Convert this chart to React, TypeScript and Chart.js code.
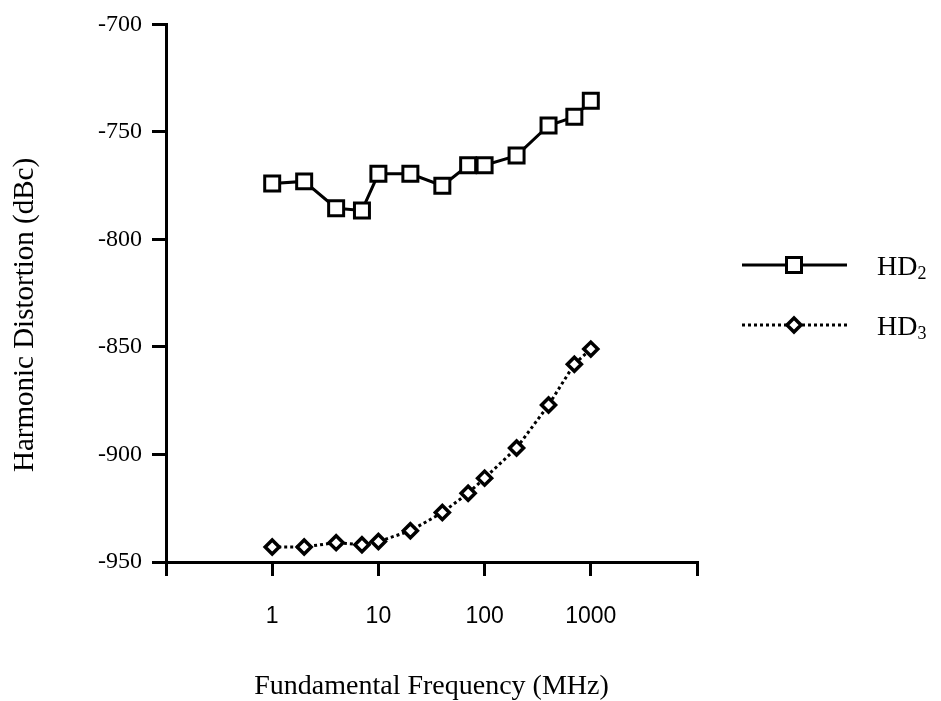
import React, { useEffect, useRef } from 'react';
import { Chart, registerables } from 'chart.js';

Chart.register(...registerables);

// ---- data ----
const frequencies = [1, 2, 4, 7, 10, 20, 40, 70, 100, 200, 400, 700, 1000];
const hd2Values = [-774, -773, -785.5, -786.5, -769.5, -769.5, -775, -765.5, -765.5, -761, -747, -743, -735.5];
const hd3Values = [-943, -943, -941, -942, -940.5, -935.5, -927, -918, -911, -897, -877, -858, -851];
const seriesNames = ['HD2', 'HD3'];
const legendBase = ['HD', 'HD'];
const legendSub = ['2', '3'];
const xTickValues = [0.1, 1, 10, 100, 1000, 10000];
const xTickLabels = ['', '1', '10', '100', '1000', ''];
const yTickValues = [-950, -900, -850, -800, -750, -700];
const xTitle = 'Fundamental Frequency (MHz)';
const yTitle = 'Harmonic Distortion (dBc)';

const SERIF = '"Liberation Serif", "Times New Roman", serif';
const SANS = '"Liberation Sans", Arial, sans-serif';

const yAxisTitle = {
  id: 'yAxisTitle',
  afterDraw(chart: any) {
    const ctx = chart.ctx as CanvasRenderingContext2D;
    ctx.save();
    ctx.translate(25, 315);
    ctx.rotate(-Math.PI / 2);
    ctx.fillStyle = '#000';
    ctx.font = `29px ${SERIF}`;
    ctx.textAlign = 'center';
    ctx.textBaseline = 'middle';
    ctx.fillText(yTitle, 0, 0);
    ctx.restore();
  },
};

const sideLegend = {
  id: 'sideLegend',
  afterDraw(chart: any) {
    const ctx = chart.ctx as CanvasRenderingContext2D;
    const rows = [265, 325];
    const x1 = 742;
    const x2 = 847;
    const mx = 794;
    const tx = 877;
    ctx.save();
    rows.forEach((y, i) => {
      ctx.strokeStyle = '#000';
      ctx.lineWidth = 3;
      ctx.setLineDash(i === 0 ? [] : [3, 3]);
      ctx.beginPath();
      ctx.moveTo(x1, y);
      ctx.lineTo(x2, y);
      ctx.stroke();
      ctx.setLineDash([]);
      ctx.fillStyle = '#fff';
      ctx.beginPath();
      if (i === 0) {
        ctx.lineWidth = 3;
        ctx.rect(mx - 7.5, y - 7.5, 15, 15);
      } else {
        ctx.lineWidth = 3.5;
        ctx.moveTo(mx - 7, y);
        ctx.lineTo(mx, y - 7);
        ctx.lineTo(mx + 7, y);
        ctx.lineTo(mx, y + 7);
        ctx.closePath();
      }
      ctx.fill();
      ctx.stroke();
      ctx.fillStyle = '#000';
      ctx.textBaseline = 'alphabetic';
      ctx.textAlign = 'left';
      ctx.font = `28px ${SERIF}`;
      const base = legendBase[i];
      ctx.fillText(base, tx, y + 10);
      const w = ctx.measureText(base).width;
      ctx.font = `18px ${SERIF}`;
      ctx.fillText(legendSub[i], tx + w, y + 14);
    });
    ctx.restore();
  },
};

export default function App() {
  const ref = useRef<HTMLCanvasElement | null>(null);
  useEffect(() => {
    if (!ref.current) return;
    const chart = new Chart(ref.current, {
      type: 'line',
      data: {
        datasets: [
          {
            label: seriesNames[0],
            data: frequencies.map((f, i) => ({ x: f, y: hd2Values[i] })),
            borderColor: '#000',
            borderWidth: 3,
            pointStyle: 'rect',
            pointRadius: 10.6,
            pointBorderWidth: 3,
            pointBackgroundColor: '#fff',
            pointBorderColor: '#000',
            tension: 0,
          },
          {
            label: seriesNames[1],
            data: frequencies.map((f, i) => ({ x: f, y: hd3Values[i] })),
            borderColor: '#000',
            borderWidth: 3,
            borderDash: [3, 3],
            pointStyle: 'rectRot',
            pointRadius: 7,
            pointBorderWidth: 3.5,
            pointBackgroundColor: '#fff',
            pointBorderColor: '#000',
            tension: 0,
          },
        ],
      },
      options: {
        animation: false,
        responsive: false,
        devicePixelRatio: 1,
        layout: { padding: { top: 24, right: 244, left: 0, bottom: 0 } },
        plugins: { legend: { display: false }, tooltip: { enabled: false } },
        scales: {
          x: {
            type: 'logarithmic',
            min: 0.1,
            max: 10000,
            afterBuildTicks: (scale: any) => {
              scale.ticks = xTickValues.map((v) => ({ value: v, major: false }));
            },
            afterFit: (scale: any) => {
              scale.height = 139;
            },
            ticks: {
              autoSkip: false,
              maxRotation: 0,
              padding: 27,
              color: '#000',
              font: { family: SANS, size: 23 },
              callback: (_v: any, i: number) => xTickLabels[i],
            },
            grid: { drawOnChartArea: false, drawTicks: true, tickLength: 14, lineWidth: 3, color: '#000' },
            border: { display: true, width: 3, color: '#000' },
            title: {
              display: true,
              text: xTitle,
              color: '#000',
              font: { family: SERIF, size: 28, lineHeight: 1 },
              padding: { top: 0, bottom: 0 },
            },
          },
          y: {
            type: 'linear',
            min: -950,
            max: -700,
            afterBuildTicks: (scale: any) => {
              scale.ticks = yTickValues.map((v) => ({ value: v }));
            },
            afterFit: (scale: any) => {
              scale.width = 166;
            },
            ticks: {
              padding: 10,
              color: '#000',
              font: { family: SERIF, size: 24 },
            },
            grid: { drawOnChartArea: false, drawTicks: true, tickLength: 14, lineWidth: 3, color: '#000' },
            border: { display: true, width: 3, color: '#000' },
            title: { display: false, text: yTitle },
          },
        },
      },
      plugins: [yAxisTitle, sideLegend],
    });
    return () => chart.destroy();
  }, []);
  return (
    <div style={{ position: 'absolute', left: 0, top: 0, width: 941, height: 701, background: '#fff' }}>
      <canvas ref={ref} width={941} height={701} />
    </div>
  );
}
